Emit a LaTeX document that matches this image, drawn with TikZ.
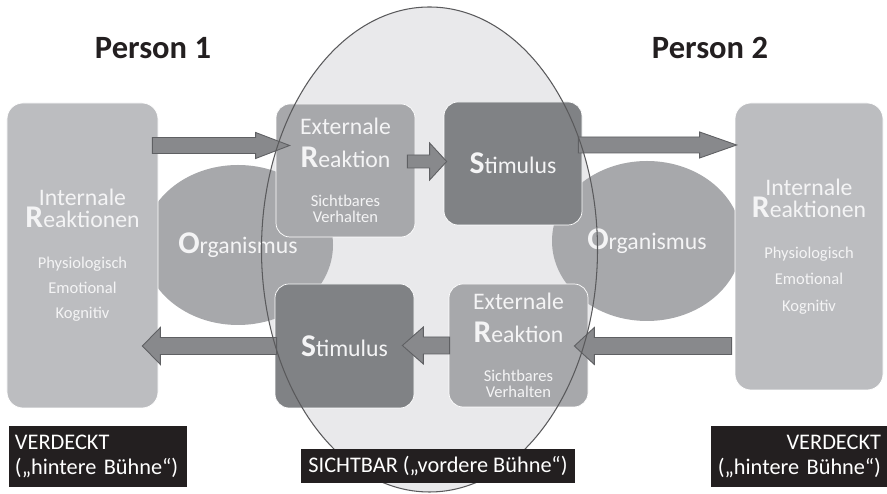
\documentclass[tikz,border=0pt]{standalone}
\usepackage{fontspec}
\setmainfont{Carlito}
\usetikzlibrary{shapes.geometric, calc}

\definecolor{stagefill}{RGB}{233,233,235}
\definecolor{stageline}{RGB}{90,90,92}
\definecolor{intgray}{RGB}{188,189,192}
\definecolor{orggray}{RGB}{167,168,171}
\definecolor{extgray}{RGB}{167,168,171}
\definecolor{stimgray}{RGB}{128,130,133}
\definecolor{arrowfill}{RGB}{136,137,140}
\definecolor{arrowline}{RGB}{95,96,99}
\definecolor{tagblack}{RGB}{35,31,32}
\definecolor{boxtext}{RGB}{244,244,245}

\newcommand{\capletter}[1]{{\fontsize{18}{18}\selectfont\bfseries #1}}
\newcommand{\subtext}{\fontsize{9.4}{11}\selectfont}

\tikzset{
    arr shaft/.store in=\arrshaft, arr head/.store in=\arrhead, arr tip/.store in=\arrtip,
    arr shaft=0.16cm, arr head=0.26cm, arr tip=0.66cm
}

\begin{document}
\begin{tikzpicture}[
    every node/.style={align=center, text=boxtext},
    stagearea/.style={ellipse, minimum width=6.72cm, minimum height=9.7cm, inner sep=0pt, fill=stagefill},
    intbox/.style={rectangle, rounded corners=0.32cm, draw=white, fill=intgray, minimum width=3.02cm, minimum height=6.1cm, font=\fontsize{13.5}{12.5}\selectfont},
    extbox/.style={rectangle, rounded corners=0.28cm, draw=white, fill=extgray, minimum width=2.78cm, minimum height=2.66cm, font=\fontsize{13.5}{12.5}\selectfont},
    stimbox/.style={extbox, fill=stimgray, minimum height=2.46cm},
    orgshape/.style={ellipse, fill=orggray, minimum width=3.8cm, minimum height=3.2cm, inner sep=0pt, font=\fontsize{13.5}{12.5}\selectfont},
    tagbox/.style={rectangle, fill=tagblack, text=white, inner sep=0pt, font=\fontsize{12.7}{14.2}\selectfont},
    persontitle/.style={text=tagblack, font=\fontsize{18.5}{20}\selectfont\bfseries},
    flow/.style={draw=arrowline, fill=arrowfill, line width=0.5pt,
        to path={let \p1=(\tikztostart), \p2=(\tikztotarget), \n1={sign(\x2-\x1)} in
            ({\x1},{\y1+\arrshaft}) -- ({\x2-(\n1)*\arrtip},{\y1+\arrshaft}) -- ({\x2-(\n1)*\arrtip},{\y1+\arrhead})
            -- ({\x2},{\y1}) -- ({\x2-(\n1)*\arrtip},{\y1-\arrhead}) -- ({\x2-(\n1)*\arrtip},{\y1-\arrshaft})
            -- ({\x1},{\y1-\arrshaft}) -- cycle}},
    longflow/.style={flow, arr shaft=0.16cm, arr head=0.26cm, arr tip=0.68cm},
    shortflow/.style={flow, arr shaft=0.17cm, arr head=0.37cm, arr tip=0.4cm}
]
\useasboundingbox (0,0) rectangle (17.74,9.88);

% Visible stage
\node[stagearea] (stage) at (8.59, 4.89) {};

% Organism of each person
\node[orgshape] (orgL) at (4.76, 4.98) {\capletter{O}rganismus};
\node[orgshape] (orgR) at (12.94, 5.06) {\capletter{O}rganismus};

% Internal reactions
\node[intbox] (intL) at (1.65, 4.77) {Internale\\\capletter{R}eaktionen\\[11pt]{\subtext Physiologisch}\\[1.7pt]{\subtext Emotional}\\[1.7pt]{\subtext Kognitiv}};
\node[intbox, minimum width=2.96cm, minimum height=5.74cm] (intR) at (16.18, 4.95) {Internale\\\capletter{R}eaktionen\\[11pt]{\subtext Physiologisch}\\[2.5pt]{\subtext Emotional}\\[2.5pt]{\subtext Kognitiv}};

% External reactions and stimuli
\node[extbox] (extT) at (6.91, 6.47) {Externale\\[6.5pt]\capletter{R}eaktion\\[9.5pt]{\subtext Sichtbares}\\[-3.1pt]{\subtext Verhalten}};
\node[stimbox, minimum width=2.76cm] (stimT) at (10.26, 6.61) {\capletter{S}timulus};
\node[stimbox, minimum height=2.48cm] (stimB) at (6.89, 2.96) {\capletter{S}timulus};
\node[extbox, minimum height=2.46cm] (extB) at (10.37, 2.97) {Externale\\[6.5pt]\capletter{R}eaktion\\[9.5pt]{\subtext Sichtbares}\\[-3.1pt]{\subtext Verhalten}};

% Arrows
\draw[longflow] ([xshift=-0.12cm, yshift=2.2cm]intL.east) to ([xshift=0.28cm]extT.west);
\draw[shortflow, arr shaft=0.13cm, arr tip=0.34cm] ([xshift=-0.16cm, yshift=0.18cm]extT.east) to ([xshift=0.06cm]stimT.west);
\draw[longflow, arr tip=0.74cm] ([xshift=-0.08cm, yshift=0.37cm]stimT.east) to ([xshift=0.04cm]intR.west);
\draw[shortflow] ([xshift=-0.06cm, yshift=-1.99cm]intR.west) to ([xshift=-0.28cm]extB.east);
\draw[shortflow, arr tip=0.42cm] ([xshift=0.02cm]extB.west) to ([xshift=-0.24cm]stimB.east);
\draw[shortflow, arr tip=0.36cm] ([xshift=0.04cm]stimB.west) to ([xshift=-0.32cm]intL.east);

% Stage outline
\draw[stageline, line width=0.6pt] (stage.center) ellipse (3.36cm and 4.85cm);

% Titles
\node[persontitle] (person1) at (3.06, 8.92) {Person 1};
\node[persontitle] (person2) at (14.2, 8.92) {Person 2};

% Tags
\node[tagbox, minimum height=1.22cm, inner xsep=0.12cm, text width=3.32cm, align=left] (tagL) at (1.96, 0.75) {VERDECKT\\(„hintere Bühne“)};
\node[tagbox, minimum height=1.22cm, inner xsep=0.12cm, text width=3.28cm, align=right] (tagR) at (15.98, 0.75) {VERDECKT\\(„hintere Bühne“)};
\node[tagbox, minimum width=5.48cm, minimum height=0.68cm] (tagM) at (8.76, 0.56) {SICHTBAR („vordere Bühne“)};

\end{tikzpicture}
\end{document}
